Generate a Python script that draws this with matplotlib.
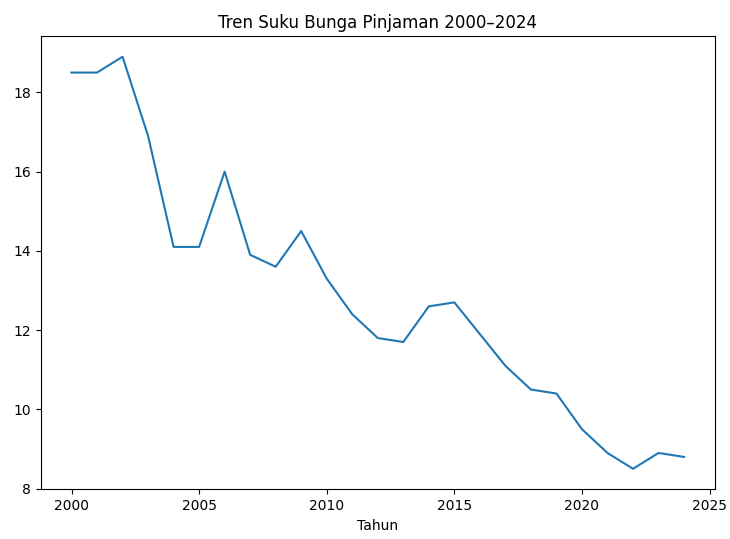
import matplotlib
matplotlib.use("Agg")
import matplotlib.pyplot as plt

years = list(range(2000, 2025))
rates = [18.5, 18.5, 18.9, 16.9, 14.1, 14.1, 16.0, 13.9, 13.6, 14.5,
         13.3, 12.4, 11.8, 11.7, 12.6, 12.7, 11.9, 11.1, 10.5, 10.4,
         9.5, 8.9, 8.5, 8.9, 8.8]

fig, ax = plt.subplots(figsize=(7.3, 5.39), dpi=100)
ax.plot(years, rates, color="#1f77b4", linewidth=1.5)
ax.set_title("Tren Suku Bunga Pinjaman 2000\u20132024")
ax.set_xlabel("Tahun")
fig.subplots_adjust(left=0.056, right=0.979, top=0.933, bottom=0.092)
fig.savefig("out.png", dpi=100)
